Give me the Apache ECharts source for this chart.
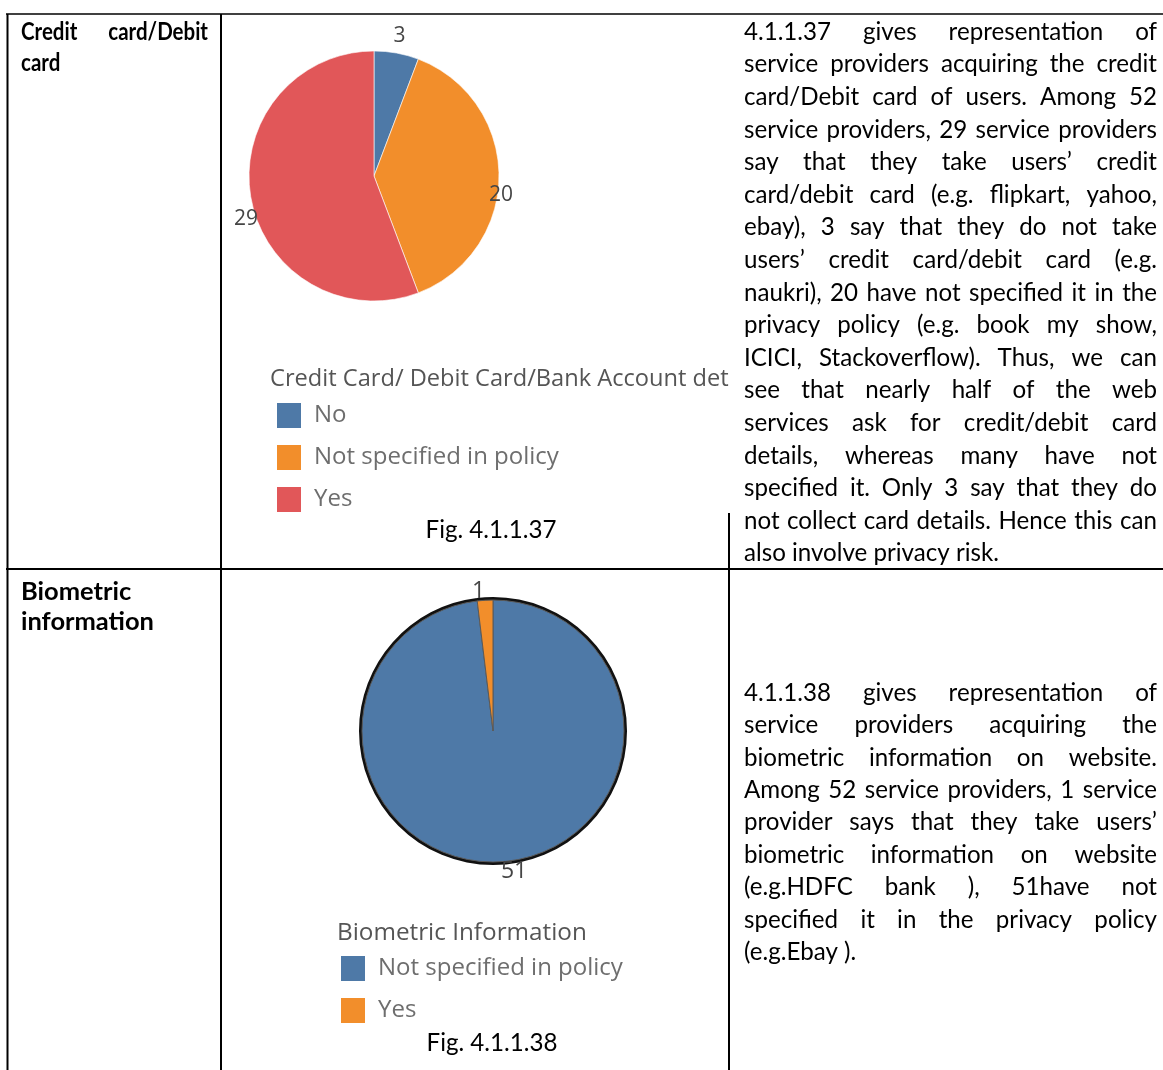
<!DOCTYPE html>
<html><head><meta charset="utf-8">
<script src="https://cdn.jsdelivr.net/npm/echarts@6/dist/echarts.min.js"></script>
<style>html,body{margin:0;padding:0;background:#fff}#c{width:1163px;height:1070px}</style>
</head><body><div id="c"></div>
<script>
// ---------- data ----------
const cardCategories = ['No', 'Not specified in policy', 'Yes'];
const cardValues = [3, 20, 29];
const bioCategories = ['Not specified in policy', 'Yes'];
const bioValues = [51, 1];
const cardLegendTitle = 'Credit Card/ Debit Card/Bank Account det';
const bioLegendTitle = 'Biometric Information';
const figCaptions = ['Fig. 4.1.1.37', 'Fig. 4.1.1.38'];
const rowHead1 = ['Credit card/Debit', 'card'];
const rowHead2 = ['Biometric', 'information'];
const para1 = [
  '4.1.1.37 gives representation of',
  'service providers acquiring the credit',
  'card/Debit card of users. Among 52',
  'service providers, 29 service providers',
  'say that they take users\u2019 credit',
  'card/debit card (e.g. flipkart, yahoo,',
  'ebay), 3 say that they do not take',
  'users\u2019 credit card/debit card (e.g.',
  'naukri), 20 have not specified it in the',
  'privacy policy (e.g. book my show,',
  'ICICI, Stackoverflow). Thus, we can',
  'see that nearly half of the web',
  'services ask for credit/debit card',
  'details, whereas many have not',
  'specified it. Only 3 say that they do',
  'not collect card details. Hence this can',
  'also involve privacy risk.'
];
const para2 = [
  '4.1.1.38 gives representation of',
  'service providers acquiring the',
  'biometric information on website.',
  'Among 52 service providers, 1 service',
  'provider says that they take users\u2019',
  'biometric information on website',
  '(e.g.HDFC bank ), 51have not',
  'specified it in the privacy policy',
  '(e.g.Ebay ).'
];

// ---------- styles ----------
const cardColors = ['#4e79a7', '#f28e2b', '#e15759'];
const bioColors = ['#4e79a7', '#f28e2b'];
const cardLabelOffsets = [[-8, -17], [-15, 19], [12, 20]];
const bioLabelOffsets = [[-5, 10], [5, -9]];
const BODY = 'Lato, "Liberation Sans", sans-serif';
const TAB = '"Open Sans", "DejaVu Sans", sans-serif';

const mctx = document.createElement('canvas').getContext('2d');
function tw(t, weight, size, family) { mctx.font = weight + ' ' + size + 'px ' + family; return mctx.measureText(t).width; }
function fit(t, weight, family, w) { return w / tw(t, weight, 100, family) * 100; }

const bodySize = fit('also involve privacy risk.', 'normal', BODY, 255);
const headSize = fit('information', 'bold', BODY, 133);
const capSize = fit('Fig. 4.1.1.38', 'normal', BODY, 131);
const legSize = fit('Not specified in policy', 'normal', TAB, 245);
const title1Size = fit(cardLegendTitle, 'normal', TAB, 459);
const title2Size = fit(bioLegendTitle, 'normal', TAB, 250);
// first header is set in a condensed face in the reference
const head1Words = rowHead1[0].split(' ');
const head1Natural = head1Words.reduce(function (a, w) { return a + tw(w, 'bold', headSize, BODY); }, 0);
const head1Sx = 156 / head1Natural;

function textEl(t, x, y, size, weight, family, fill, align, sx) {
  return { type: 'text', x: x, y: y, z: 10, silent: true, scaleX: sx || 1,
    style: { text: t, fontSize: size, fontWeight: weight, fontFamily: family, fill: fill,
      textAlign: align || 'left', verticalAlign: 'middle', textVerticalAlign: 'middle' } };
}
function block(lines, x0, x1, y0, dy, size, weight, family, sx) {
  sx = sx || 1;
  const out = [];
  lines.forEach(function (line, i) {
    const y = y0 + dy * i;
    const words = line.split(' ').filter(function (w) { return w.length; });
    if (i === lines.length - 1 || words.length === 1) { out.push(textEl(line, x0, y, size, weight, family, '#000', 'left', sx)); return; }
    const widths = words.map(function (w) { return tw(w, weight, size, family) * sx; });
    const total = widths.reduce(function (a, b) { return a + b; }, 0);
    const gap = (x1 - x0 - total) / (words.length - 1);
    let x = x0;
    words.forEach(function (w, k) { out.push(textEl(w, x, y, size, weight, family, '#000', 'left', sx)); x += widths[k] + gap; });
  });
  return out;
}
function ln(x1, y1, x2, y2, w) {
  return { type: 'line', silent: true, z: 5, shape: { x1: x1, y1: y1, x2: x2, y2: y2 }, style: { stroke: '#000', lineWidth: w || 2 } };
}

const graphics = [].concat(
  [ln(6, 14, 1163, 14, 1.5), ln(7.5, 14, 7.5, 1070), ln(221, 14, 221, 1070), ln(729, 513, 729, 1070), ln(6, 569, 1163, 569)],
  block(rowHead1, 21, 208, 32, 31, headSize, 'bold', BODY, head1Sx),
  block(rowHead2, 21, 208, 592, 30, headSize, 'bold', BODY),
  block(para1, 744, 1157, 32, 32.6, bodySize, 'normal', BODY),
  block(para2, 744, 1157, 693, 32.4, bodySize, 'normal', BODY),
  [textEl(figCaptions[0], 491, 530, capSize, 'normal', BODY, '#000', 'center'),
   textEl(figCaptions[1], 492, 1043, capSize, 'normal', BODY, '#000', 'center'),
   textEl(cardLegendTitle, 270, 379, title1Size, 'normal', TAB, '#555'),
   textEl(bioLegendTitle, 337, 933, title2Size, 'normal', TAB, '#555')]
);

function pieData(cats, vals, colors, offs) {
  return cats.map(function (n, i) {
    return { name: n, value: vals[i], itemStyle: { color: colors[i] }, label: { offset: offs[i] } };
  });
}
const legendBase = { orient: 'vertical', padding: 0, itemWidth: 26, itemHeight: 27, itemGap: 13, icon: 'rect', selectedMode: false,
  textStyle: { fontSize: legSize, lineHeight: 26, fontFamily: TAB, color: '#6e6e6e', padding: [0, 0, 0, 7] } };

const chart = echarts.init(document.getElementById('c'), null, { renderer: 'canvas' });
chart.setOption({
  animation: false,
  backgroundColor: '#fff',
  legend: [
    Object.assign({}, legendBase, { left: 275, top: 401,
      data: cardCategories.map(function (n, i) { return { name: n, itemStyle: { color: cardColors[i] } }; }) }),
    Object.assign({}, legendBase, { left: 339, top: 954,
      data: bioCategories.map(function (n, i) { return { name: n, itemStyle: { color: bioColors[i] } }; }) })
  ],
  series: [
    { type: 'pie', silent: true, center: [374, 176], radius: 125, startAngle: 90, clockwise: true,
      avoidLabelOverlap: false,
      itemStyle: { borderColor: '#fff', borderWidth: 0.6 },
      label: { show: true, position: 'outside', formatter: '{c}', fontSize: 21, fontFamily: TAB, color: '#454545' },
      labelLine: { show: false, length: 0, length2: 0 },
      data: pieData(cardCategories, cardValues, cardColors, cardLabelOffsets) },
    { type: 'pie', silent: true, center: [493, 731], radius: [130, 134], startAngle: 90, clockwise: true,
      avoidLabelOverlap: false, legendHoverLink: false,
      itemStyle: { color: '#111', borderWidth: 0 },
      label: { show: false }, labelLine: { show: false },
      data: bioCategories.map(function (n, i) { return { name: n, value: bioValues[i] }; }) },
    { type: 'pie', silent: true, center: [493, 731], radius: 131, startAngle: 90, clockwise: true,
      avoidLabelOverlap: false,
      itemStyle: { borderColor: '#5a5a5a', borderWidth: 1 },
      label: { show: true, position: 'outside', formatter: '{c}', fontSize: 23, fontFamily: TAB, color: '#454545' },
      labelLine: { show: false, length: 0, length2: 0 },
      data: pieData(bioCategories, bioValues, bioColors, bioLabelOffsets) }
  ],
  graphic: { elements: graphics }
});
</script></body></html>
